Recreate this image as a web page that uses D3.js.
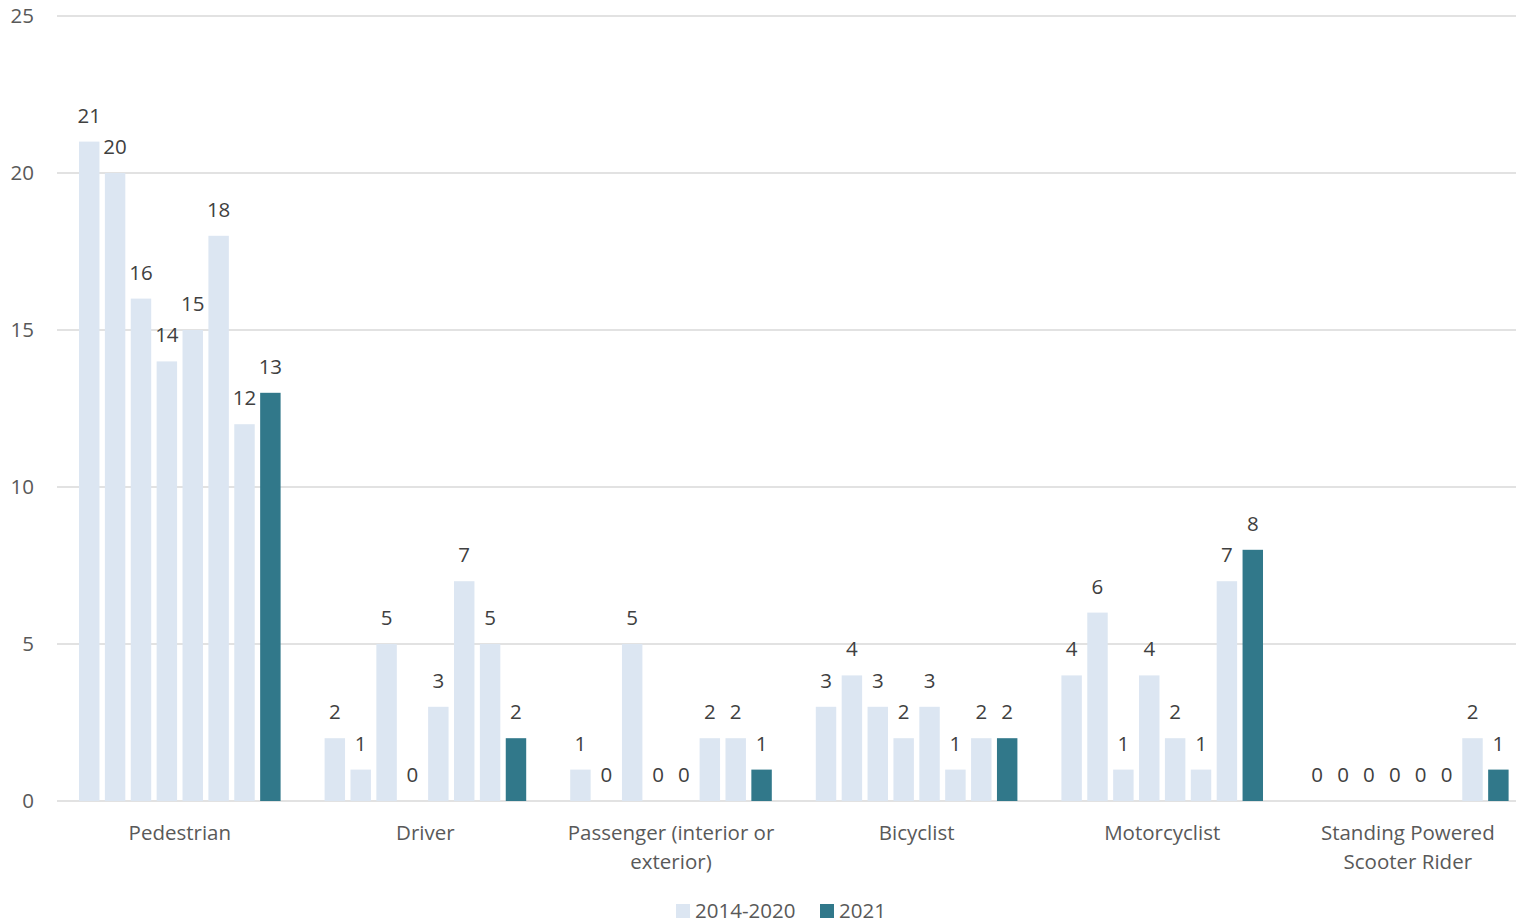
<!DOCTYPE html>
<html>
<head>
<meta charset="utf-8">
<script src="https://cdn.jsdelivr.net/npm/d3@7"></script>
<style>
  body { margin: 0; background: #fff; }
  text { font-family: "Open Sans", "Noto Sans", sans-serif; }
</style>
</head>
<body>
<div id="chart"></div>
<script>
// chart data
var categories = [
  ["Pedestrian"],
  ["Driver"],
  ["Passenger (interior or", "exterior)"],
  ["Bicyclist"],
  ["Motorcyclist"],
  ["Standing Powered", "Scooter Rider"]
];
var years = ["2014", "2015", "2016", "2017", "2018", "2019", "2020", "2021"];
var pedestrian = [21, 20, 16, 14, 15, 18, 12, 13];
var driver = [2, 1, 5, 0, 3, 7, 5, 2];
var passenger = [1, 0, 5, 0, 0, 2, 2, 1];
var bicyclist = [3, 4, 3, 2, 3, 1, 2, 2];
var motorcyclist = [4, 6, 1, 4, 2, 1, 7, 8];
var scooter = [0, 0, 0, 0, 0, 0, 2, 1];
var yTicks = [0, 5, 10, 15, 20, 25];
var legendLabels = ["2014-2020", "2021"];

var allValues = [pedestrian, driver, passenger, bicyclist, motorcyclist, scooter];

var svgWidth = 1516;
var svgHeight = 924;
var margin = { top: 16, left: 57, bottom: 123 };
var plotWidth = 245.6 * 6;
var height = svgHeight - margin.top - margin.bottom;

var lightColor = "#dce6f2";
var tealColor = "#31788a";
var textColor = "#404040";
var fontSize = "20.5px";

var svg = d3.select("#chart")
  .append("svg")
  .attr("width", svgWidth)
  .attr("height", svgHeight);

var chart = svg.append("g")
  .attr("transform", `translate(${margin.left}, ${margin.top})`);

var x0 = d3.scaleBand()
  .domain(d3.range(categories.length))
  .range([0, plotWidth]);

var x1 = d3.scaleBand()
  .domain(years)
  .range([0, x0.bandwidth()])
  .paddingInner(0.21)
  .paddingOuter(0.85);

var y = d3.scaleLinear()
  .domain([0, 25])
  .range([height, 0]);

// gridlines
chart.append("g")
  .selectAll("line")
  .data(yTicks)
  .enter()
  .append("line")
  .attr("x1", 0)
  .attr("x2", svgWidth - margin.left)
  .attr("y1", d => y(d))
  .attr("y2", d => y(d))
  .attr("stroke", "#d9d9d9")
  .attr("stroke-width", 1.5);

// y axis labels
chart.append("g")
  .selectAll("text")
  .data(yTicks)
  .enter()
  .append("text")
  .attr("x", -23)
  .attr("y", d => y(d))
  .attr("dy", "0.35em")
  .attr("text-anchor", "end")
  .attr("font-size", fontSize)
  .attr("fill", "#595959")
  .text(d => d);

// bar groups
var groups = chart.selectAll(".cat")
  .data(allValues)
  .enter()
  .append("g")
  .attr("class", "cat")
  .attr("transform", (d, i) => `translate(${x0(i)}, 0)`);

groups.selectAll("rect")
  .data(d => d.map((v, j) => ({ year: years[j], value: v })))
  .enter()
  .append("rect")
  .attr("x", d => x1(d.year))
  .attr("y", d => y(d.value))
  .attr("width", x1.bandwidth())
  .attr("height", d => height - y(d.value))
  .attr("fill", d => d.year === "2021" ? tealColor : lightColor);

groups.selectAll(".lbl")
  .data(d => d.map((v, j) => ({ year: years[j], value: v })))
  .enter()
  .append("text")
  .attr("class", "lbl")
  .attr("x", d => x1(d.year) + x1.bandwidth() / 2)
  .attr("y", d => y(d.value) - 19)
  .attr("text-anchor", "middle")
  .attr("font-size", fontSize)
  .attr("fill", textColor)
  .text(d => d.value);

// category labels
var catLabels = chart.selectAll(".catlbl")
  .data(categories)
  .enter()
  .append("text")
  .attr("class", "catlbl")
  .attr("text-anchor", "middle")
  .attr("font-size", fontSize)
  .attr("fill", "#595959")
  .attr("transform", (d, i) => `translate(${x0(i) + x0.bandwidth() / 2}, ${height + 39})`);

catLabels.selectAll("tspan")
  .data(d => d)
  .enter()
  .append("tspan")
  .attr("x", 0)
  .attr("dy", (d, i) => i === 0 ? 0 : 29)
  .text(d => d);

// legend
var legend = svg.append("g")
  .attr("transform", "translate(676, 903)");

var legendX = [0, 144];
legendLabels.forEach(function(lab, i) {
  legend.append("rect")
    .attr("x", legendX[i])
    .attr("y", 1)
    .attr("width", 14)
    .attr("height", 14)
    .attr("fill", i === 0 ? lightColor : tealColor);
  legend.append("text")
    .attr("x", legendX[i] + 19)
    .attr("y", 15)
    .attr("font-size", fontSize)
    .attr("fill", "#595959")
    .text(lab);
});
</script>
</body>
</html>
